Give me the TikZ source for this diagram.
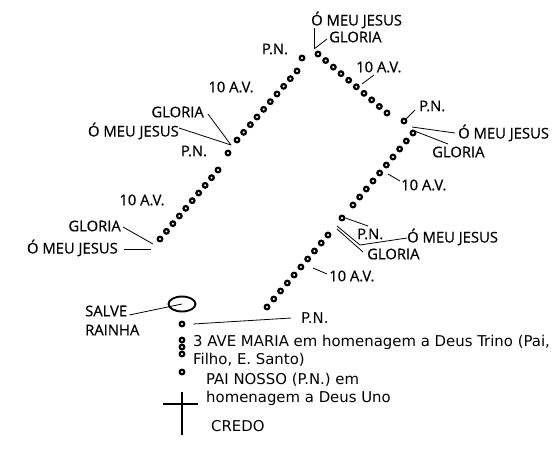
\documentclass[tikz,border=0pt]{standalone}
\usepackage{fontspec}
\setmainfont{Open Sans}
\newfontfamily\labelfont{Open Sans}[FakeBold=0.5]
\newfontfamily\bodyfont{DejaVu Sans}
\usetikzlibrary{calc,shapes.geometric}
\begin{document}
\begin{tikzpicture}[x=1pt,y=-1pt,
  bead/.style={circle,draw=black,fill=white,line width=2.2pt,inner sep=0pt,minimum size=4.6pt},
  lbl/.style={inner sep=0pt,font=\labelfont\fontsize{14.8}{17}\selectfont},
  txt/.style={inner sep=0pt,font=\bodyfont\fontsize{14.9}{17}\selectfont},
  lead/.style={line width=0.8pt}]
\useasboundingbox[fill=white] (0,0) rectangle (557,448);

% ---- beads ----
\foreach \i in {0,...,9} {
  \node[bead] (dA\i) at ($(160,239)!\i/9!(218,170)$) {};
  \node[bead] (dB\i) at ($(237,140)!\i/9!(297,71)$) {};
  \node[bead] (dC\i) at ($(318,54)!\i/9!(387,113)$) {};
  \node[bead] (dD\i) at ($(413,133)!\i/9!(353,205)$) {};
  \node[bead] (dE\i) at ($(328,235)!\i/9!(267,307)$) {};
}
\node[bead] (pA) at (228,153) {};
\node[bead] (pT) at (302,58) {};
\node[bead] (pR) at (404,121) {};
\node[bead] (pR2) at (342,218) {};

\node[ellipse,draw=black,line width=1.9pt,minimum width=27pt,minimum height=15pt,inner sep=0pt] (sr) at (182,304) {};
\node[bead] (b1) at (182,324) {};
\node[bead] (b2) at (182,340) {};
\node[bead] (b3) at (182,347) {};
\node[bead] (b4) at (182,354) {};
\node[bead] (b5) at (182,372) {};

% cross
\coordinate (ct) at (182,392);
\coordinate (cb) at (182,435);
\coordinate (cl) at (163,404);
\coordinate (cr) at (198,404);
\draw[line width=2.2pt] (ct) -- (cb) (cl) -- (cr);

% ---- labels ----
\node[lbl,anchor=west] (omjT) at (311,20) {Ó MEU JESUS};
\node[lbl,anchor=west] (glT) at (329,37) {GLORIA};
\node[lbl] (pnT) at (275,49) {P.N.};
\node[lbl,anchor=west] (avTR) at (356,67) {10 A.V.};
\node[lbl] (avTL) at (231,87) {10 A.V.};

\node[lbl,anchor=east] (glL1) at (204,112) {GLORIA};
\node[lbl,anchor=east] (omjL1) at (179,131) {Ó MEU JESUS};
\node[lbl] (pnL1) at (194,151) {P.N.};
\node[lbl] (avL) at (142,200) {10 A.V.};
\node[lbl,anchor=east] (glL2) at (121,226) {GLORIA};
\node[lbl,anchor=east] (omjL2) at (118,248) {Ó MEU JESUS};

\node[lbl,anchor=west] (pnR1) at (419,106) {P.N.};
\node[lbl,anchor=west] (omjR1) at (458,133) {Ó MEU JESUS};
\node[lbl,anchor=west] (glR1) at (432,152) {GLORIA};
\node[lbl,anchor=west] (avR1) at (401,185) {10 A.V.};
\node[lbl,anchor=west] (pnR2) at (357,234) {P.N.};
\node[lbl,anchor=west] (omjR2) at (407,237) {Ó MEU JESUS};
\node[lbl,anchor=west] (glR2) at (367,254) {GLORIA};
\node[lbl,anchor=west] (avR2) at (329,276) {10 A.V.};

\node[lbl,anchor=west] (salve) at (85,311) {SALVE};
\node[lbl,anchor=west] (rainha) at (85,330) {RAINHA};
\node[txt,anchor=west] (pnB) at (301,318) {P.N.};
\node[txt,anchor=west] (ave) at (193,342) {3 AVE MARIA em homenagem a Deus Trino (Pai,};
\node[txt,anchor=west] (filho) at (193,360) {Filho, E. Santo)};
\node[txt,anchor=west] (pai) at (206,380) {PAI NOSSO (P.N.) em};
\node[txt,anchor=west] (homen) at (206,398) {homenagem a Deus Uno};
\node[txt,anchor=west] (credo) at (211,426) {CREDO};

% ---- leader lines ----
\coordinate (jT) at (314,49);
\coordinate (jL1) at (231,145);
\coordinate (jL2) at (153,244);
\coordinate (jL2b) at (151,249);
\coordinate (jR1) at (412,127);
\coordinate (jR1b) at (412,130);
\coordinate (kR2) at (360,245);
\coordinate (jR2) at (337,226);
\coordinate (jR2b) at (337,229);
\coordinate (eTR) at (362,84);
\coordinate (eR1) at (388,174);
\coordinate (eR2) at (313,268);

\draw[lead] ([shift={(3,8)}]omjT.west) -- (jT);
\draw[lead] ([shift={(-2,2)}]glT.west) -- (jT);
\draw[lead] ([shift={(18,8)}]avTR.west) -- (eTR);
\draw[lead] ([shift={(4,2)}]glL1.east) -- (jL1);
\draw[lead] ([shift={(0,-3)}]omjL1.east) -- (jL1);
\draw[lead] ([shift={(2,1)}]glL2.east) -- (jL2);
\draw[lead] ([shift={(6,1)}]omjL2.east) -- (jL2b);
\draw[lead] ([shift={(-4,4)}]pnR1.west) -- (pR.north east);
\draw[lead] ([shift={(-3,0)}]omjR1.west) -- (jR1);
\draw[lead] ([shift={(16,-8)}]glR1.west) -- (jR1b);
\draw[lead] ([shift={(-1,-4)}]avR1.west) -- (eR1);
\draw[lead] (pR2.east) -- ([shift={(11,-8)}]pnR2.west);
\draw[lead] ([shift={(0,1)}]omjR2.west) -- (kR2) -- (jR2);
\draw[lead] ([shift={(-4,-2)}]glR2.west) -- (jR2b);
\draw[lead] ([shift={(-2,-2)}]avR2.west) -- (eR2);
\draw[lead] ([shift={(2,4)}]salve.east) -- (sr.center);
\draw[lead] ([xshift=8pt]b1.east) -- ([xshift=-10pt]pnB.west);
\end{tikzpicture}
\end{document}
